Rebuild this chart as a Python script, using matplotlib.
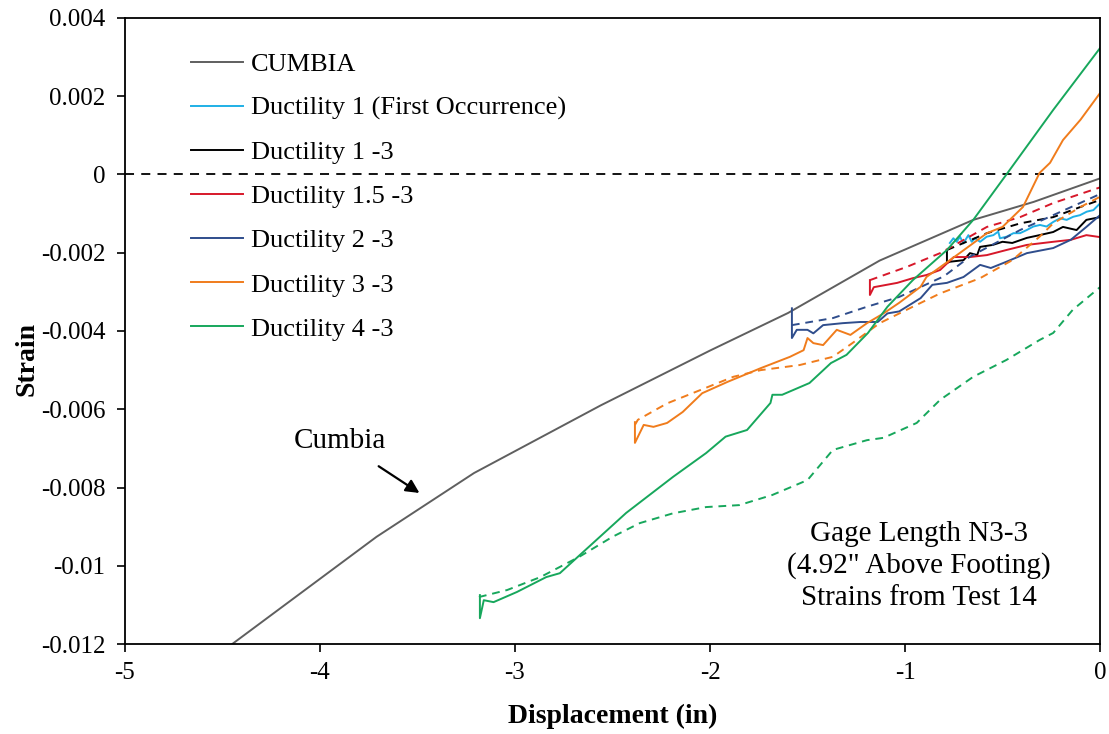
#!/usr/bin/env python3
"""
Strain vs displacement for gage length N3-3 (Test 14), compared with CUMBIA.
"""

import matplotlib
matplotlib.use("Agg")
import matplotlib.pyplot as plt

# CUMBIA prediction
cumbia_x = [-4.45, -3.71, -3.21, -2.56, -2.0, -1.6, -1.13, -0.65, -0.34, 0.0]
cumbia_y = [-0.012, -0.00926, -0.00763, -0.0059, -0.0045, -0.00354, -0.0022,
            -0.00116, -0.0007, -0.0001]

# Ductility 1 (first occurrence)
d1f_x = [-0.77, -0.752, -0.735, -0.718, -0.701, -0.675, -0.658, -0.641, -0.615,
         -0.581, -0.547, -0.522, -0.513, -0.479, -0.444, -0.41, -0.376, -0.342,
         -0.308, -0.274, -0.239, -0.205, -0.171, -0.137, -0.103, -0.068, -0.034, 0.0]
d1f_y = [-0.00175, -0.00163, -0.00172, -0.00159, -0.00176, -0.00155, -0.00172,
         -0.00163, -0.00172, -0.00159, -0.00155, -0.00146, -0.00163, -0.00159,
         -0.0015, -0.0015, -0.00142, -0.00133, -0.00129, -0.00133, -0.00121,
         -0.00112, -0.00116, -0.00108, -0.00104, -0.00095, -0.00091, -0.00074]

# Ductility 1 -3
d1_x = [-0.785, -0.785, -0.77, -0.70, -0.667, -0.63, -0.615, -0.55, -0.5, -0.45,
        -0.375, -0.31, -0.24, -0.19, -0.12, -0.07, 0.0]
d1_y = [-0.00193, -0.00226, -0.00223, -0.00219, -0.00201, -0.00206, -0.00185,
        -0.0018, -0.00172, -0.00175, -0.00162, -0.00155, -0.00147, -0.00134,
        -0.00142, -0.00116, -0.00109]
d1_ret_x = [-0.785, -0.58, -0.41, -0.24, -0.1, 0.0]
d1_ret_y = [-0.00193, -0.0015, -0.00125, -0.00109, -0.00083, -0.00065]

# Ductility 1.5 -3
d15_x = [-1.18, -1.18, -1.16, -1.04, -0.96, -0.89, -0.82, -0.75, -0.667, -0.58,
         -0.48, -0.375, -0.24, -0.15, -0.07, 0.0]
d15_y = [-0.0027, -0.00308, -0.00288, -0.00277, -0.00265, -0.00257, -0.00244,
         -0.00211, -0.00211, -0.00206, -0.00193, -0.0018, -0.00172, -0.00167,
         -0.00155, -0.0016]
d15_ret_x = [-1.18, -0.99, -0.82, -0.58, -0.41, -0.24, 0.0]
d15_ret_y = [-0.0027, -0.00236, -0.00201, -0.00134, -0.00109, -0.00073, -0.00033]

# Ductility 2 -3
d2_x = [-1.58, -1.58, -1.555, -1.5, -1.47, -1.42, -1.32, -1.23, -1.14, -1.09,
        -1.03, -0.92, -0.86, -0.785, -0.70, -0.615, -0.56, -0.48, -0.375, -0.24,
        -0.15, -0.07, 0.0]
d2_y = [-0.00342, -0.00418, -0.00397, -0.00397, -0.00406, -0.00385, -0.0038,
        -0.00377, -0.00377, -0.00355, -0.0035, -0.00316, -0.00282, -0.00277,
        -0.00262, -0.00231, -0.00239, -0.00223, -0.00201, -0.00188, -0.00167,
        -0.00134, -0.00104]
d2_ret_x = [-1.58, -1.37, -1.195, -1.03, -0.8, -0.667, -0.41, 0.0]
d2_ret_y = [-0.00385, -0.00367, -0.00338, -0.00313, -0.0026, -0.0021, -0.00142,
            -0.0005]

# Ductility 3 -3
d3_x = [-2.385, -2.385, -2.34, -2.29, -2.22, -2.14, -2.04, -1.91, -1.74, -1.59,
        -1.52, -1.5, -1.47, -1.42, -1.35, -1.28, -1.195, -1.11, -1.03, -0.92,
        -0.89, -0.72, -0.58, -0.5, -0.395, -0.31, -0.256, -0.19, -0.10, 0.0]
d3_y = [-0.00633, -0.00686, -0.0064, -0.00645, -0.00635, -0.00607, -0.00559,
        -0.0053, -0.00495, -0.00466, -0.00449, -0.00418, -0.00431, -0.00436,
        -0.00397, -0.0041, -0.0038, -0.00355, -0.00328, -0.00287, -0.00262,
        -0.00201, -0.0015, -0.00134, -0.00083, 0.00004, 0.0003, 0.00088,
        0.0014, 0.00208]
d3_ret_x = [-2.385, -2.37, -2.22, -2.05, -1.88, -1.74, -1.54, -1.37, -1.27,
            -1.13, -0.96, -0.82, -0.615, -0.45, -0.31, -0.24, -0.10, 0.0]
d3_ret_y = [-0.0064, -0.00627, -0.00585, -0.00551, -0.00517, -0.005, -0.00487,
            -0.00466, -0.00431, -0.0038, -0.00338, -0.00304, -0.00265, -0.00219,
            -0.00159, -0.00125, -0.00083, -0.00057]

# Ductility 4 -3
d4_x = [-3.18, -3.18, -3.16, -3.11, -2.99, -2.84, -2.77, -2.6, -2.43, -2.19,
        -2.02, -1.92, -1.81, -1.69, -1.68, -1.63, -1.49, -1.38, -1.30, -1.19,
        -1.09, -0.96, -0.785, -0.65, -0.48, -0.24, 0.0]
d4_y = [-0.01075, -0.01134, -0.01088, -0.01093, -0.01067, -0.01029, -0.01019,
        -0.00942, -0.00865, -0.00773, -0.00712, -0.0067, -0.00653, -0.00584,
        -0.00563, -0.00563, -0.00533, -0.00482, -0.00461, -0.00405, -0.00338,
        -0.0027, -0.00193, -0.00116, 0.0, 0.00165, 0.00323]
d4_ret_x = [-3.185, -3.04, -2.87, -2.67, -2.5, -2.36, -2.19, -2.02, -1.85, -1.68,
            -1.50, -1.37, -1.195, -1.11, -0.94, -0.82, -0.65, -0.48, -0.31,
            -0.24, -0.14, 0.0]
d4_ret_y = [-0.0108, -0.01062, -0.01029, -0.00977, -0.00926, -0.00891, -0.00866,
            -0.0085, -0.00845, -0.00819, -0.00781, -0.00704, -0.00679, -0.00673,
            -0.00635, -0.00576, -0.00517, -0.00474, -0.00423, -0.00405, -0.00346,
            -0.00288]

x_ticks = [-5, -4, -3, -2, -1, 0]
x_tick_labels = ["-5", "-4", "-3", "-2", "-1", "0"]
y_ticks = [0.004, 0.002, 0, -0.002, -0.004, -0.006, -0.008, -0.01, -0.012]
y_tick_labels = ["0.004", "0.002", "0", "-0.002", "-0.004", "-0.006", "-0.008",
                 "-0.01", "-0.012"]

plt.rcParams["font.family"] = ["Liberation Serif", "DejaVu Serif"]
plt.rcParams["axes.unicode_minus"] = False

fig = plt.figure(figsize=(11.09, 7.34), dpi=100)
ax = fig.add_axes([0.1127, 0.1226, 0.8792, 0.8529])

lw = 1.4
dash = (0, (4, 3))

ax.axhline(0, color="black", lw=1.3, linestyle=(0, (5, 4)), zorder=1)

ax.plot(cumbia_x, cumbia_y, color="#5f5f5f", lw=lw, label="CUMBIA")

series = [
    (d1f_x, d1f_y, None, None, "#1fb0e6", "Ductility 1 (First Occurrence)"),
    (d1_x, d1_y, d1_ret_x, d1_ret_y, "#000000", "Ductility 1 -3"),
    (d15_x, d15_y, d15_ret_x, d15_ret_y, "#d7182a", "Ductility 1.5 -3"),
    (d2_x, d2_y, d2_ret_x, d2_ret_y, "#2f4d8c", "Ductility 2 -3"),
    (d3_x, d3_y, d3_ret_x, d3_ret_y, "#f07c1c", "Ductility 3 -3"),
    (d4_x, d4_y, d4_ret_x, d4_ret_y, "#17a75c", "Ductility 4 -3"),
]
for sx, sy, rx, ry, color, label in series:
    if rx is not None:
        ax.plot(rx, ry, color=color, lw=lw, linestyle=dash)
    ax.plot(sx, sy, color=color, lw=lw, label=label)

ax.set_xlim(-5, 0)
ax.set_ylim(-0.012, 0.004)
ax.set_xticks(x_ticks)
ax.set_xticklabels(x_tick_labels)
ax.set_yticks(y_ticks)
ax.set_yticklabels(y_tick_labels)
ax.tick_params(direction="out", length=6, width=1.2, labelsize=18)
ax.tick_params(axis="y", pad=8)
ax.tick_params(axis="x", pad=7)
for s in ax.spines.values():
    s.set_linewidth(1.3)

ax.set_xlabel("Displacement (in)", fontsize=20, fontweight="bold", labelpad=14)
ax.set_ylabel("Strain", fontsize=20, fontweight="bold")
ax.yaxis.set_label_coords(-0.088, 0.455)

ax.legend(loc="upper left", bbox_to_anchor=(0.043, 0.983), frameon=False,
          fontsize=19, handlelength=2.0, handletextpad=0.27, labelspacing=0.78)

ax.annotate("Cumbia", xy=(-3.49, -0.00814), xytext=(-3.9, -0.0068),
            fontsize=21, ha="center", va="center",
            arrowprops=dict(arrowstyle="-|>", color="black", lw=1.6,
                            shrinkA=13, shrinkB=0, mutation_scale=20))

ax.text(-0.93, -0.0100, "Gage Length N3-3\n(4.92\" Above Footing)\nStrains from Test 14",
        fontsize=21, ha="center", va="center", linespacing=1.28)

fig.savefig("out.png", dpi=100)
